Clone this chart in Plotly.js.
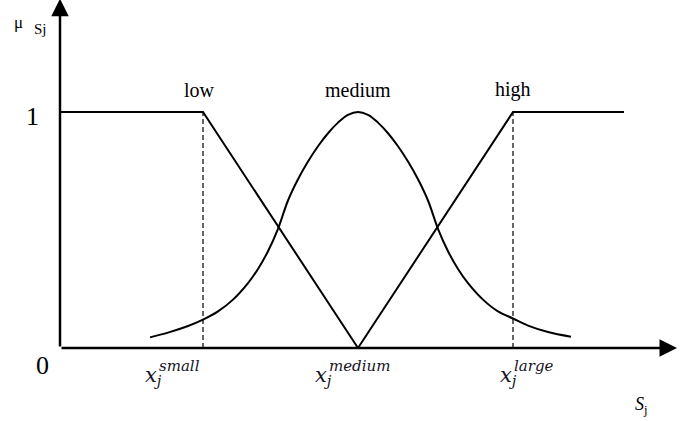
<!DOCTYPE html>
<html>
<head>
<meta charset="utf-8">
<script src="https://cdn.plot.ly/plotly-3.0.1.min.js"></script>
<style>
  html, body { margin: 0; padding: 0; background: #fff; }
  #chart { width: 686px; height: 421px; }
</style>
</head>
<body>
<div id="chart"></div>
<script>
// fuzzy sets on S_j (x measured from the origin)
const setNames = ["low", "medium", "high"];
const centres = [143, 298, 453];              // x_j^small, x_j^medium, x_j^large
const centreWords = ["small", "medium", "large"];

const lowX = [0, 143, 298];
const lowMu = [1, 1, 0];

const highX = [298, 453, 564];
const highMu = [0, 1, 1];

const mediumX = [90, 108, 128, 143, 158, 173, 188, 198, 208, 218, 228, 238, 248, 258, 268, 278, 288, 298,
                 308, 318, 328, 338, 348, 358, 368, 378, 388, 398, 408, 423, 438, 453, 468, 488, 511];
const mediumMu = [0.045, 0.065, 0.093, 0.12, 0.155, 0.205, 0.275, 0.335, 0.41, 0.505, 0.625, 0.715,
                  0.79, 0.855, 0.91, 0.955, 0.988, 1.0,
                  0.988, 0.955, 0.91, 0.855, 0.79, 0.715, 0.625, 0.505, 0.41, 0.335, 0.275,
                  0.205, 0.155, 0.125, 0.095, 0.068, 0.048];

const serif = "Liberation Serif, Times New Roman, serif";
const mathFont = "DejaVu Serif, serif";
const ink = "#000";
const mathInk = "#15151f";

const solid = { color: ink, width: 2 };
const dashed = { color: ink, width: 1.2, dash: "5px,3px" };

const traces = [
  { x: lowX, y: lowMu, mode: "lines", line: solid },
  { x: mediumX, y: mediumMu, mode: "lines", line: Object.assign({ shape: "spline", smoothing: 1 }, solid) },
  { x: highX, y: highMu, mode: "lines", line: solid },
  // dashed drops at x_small and x_large
  { x: [centres[0], centres[0]], y: [0, 1], mode: "lines", line: dashed },
  { x: [centres[2], centres[2]], y: [0, 1], mode: "lines", line: dashed }
];

const ann = [];

// axes with arrow heads
ann.push({ x: 617, y: 0, ax: 0, ay: 0, xref: "x", yref: "y", axref: "x", ayref: "y",
  text: "", showarrow: true, arrowhead: 2, arrowsize: 1.4, arrowwidth: 2.5, arrowcolor: ink });
ann.push({ x: 0, y: 1.48, ax: 0, ay: 0, xref: "x", yref: "y", axref: "x", ayref: "y",
  text: "", showarrow: true, arrowhead: 2, arrowsize: 1.4, arrowwidth: 2.5, arrowcolor: ink });

// set names above each shape
const namePos = [centres[0] - 4, mediumX[mediumMu.indexOf(1)], centres[2]];
setNames.forEach((n, i) => {
  ann.push({ x: namePos[i], y: 1.095, text: n, showarrow: false,
    font: { family: serif, size: 20, color: ink } });
});

// 0 / 1 on the vertical axis
ann.push({ x: -28, y: 0.98, text: "1", showarrow: false, font: { family: serif, size: 26, color: ink } });
ann.push({ x: -18, y: -0.075, text: "0", showarrow: false, font: { family: serif, size: 26, color: ink } });

// axis titles
ann.push({ x: -42, y: 1.38, text: "μ", showarrow: false, font: { family: serif, size: 17, color: ink } });
ann.push({ x: -20, y: 1.35, text: "Sj", showarrow: false, font: { family: serif, size: 15, color: ink } });
ann.push({ x: 581, y: -0.302, yanchor: "bottom", text: "<i>S</i><sub>j</sub>", showarrow: false,
  font: { family: serif, size: 18, color: ink } });

// x_j^word labels under the axis
const labelShift = [-60, -45, -15];
centreWords.forEach((w, i) => {
  const cx = centres[i] + labelShift[i];
  ann.push({ x: cx, y: -0.12, xanchor: "left", text: "<i>x</i><sub><i>j</i></sub>", showarrow: false,
    font: { family: mathFont, size: 21, color: mathInk } });
  ann.push({ x: cx + 14, y: -0.075, xanchor: "left", text: "<i>" + w + "</i>", showarrow: false,
    font: { family: mathFont, size: 15, color: mathInk } });
});

const hidden = { visible: false, showgrid: false, zeroline: false, fixedrange: true };

const layout = {
  width: 686,
  height: 421,
  margin: { l: 0, r: 0, t: 0, b: 0 },
  paper_bgcolor: "#fff",
  plot_bgcolor: "#fff",
  showlegend: false,
  xaxis: Object.assign({ range: [-60, 626] }, hidden),
  yaxis: Object.assign({ range: [-73 / 236, 348 / 236] }, hidden),
  annotations: ann
};

Plotly.newPlot("chart", traces, layout, { staticPlot: true, displayModeBar: false });
</script>
</body>
</html>
